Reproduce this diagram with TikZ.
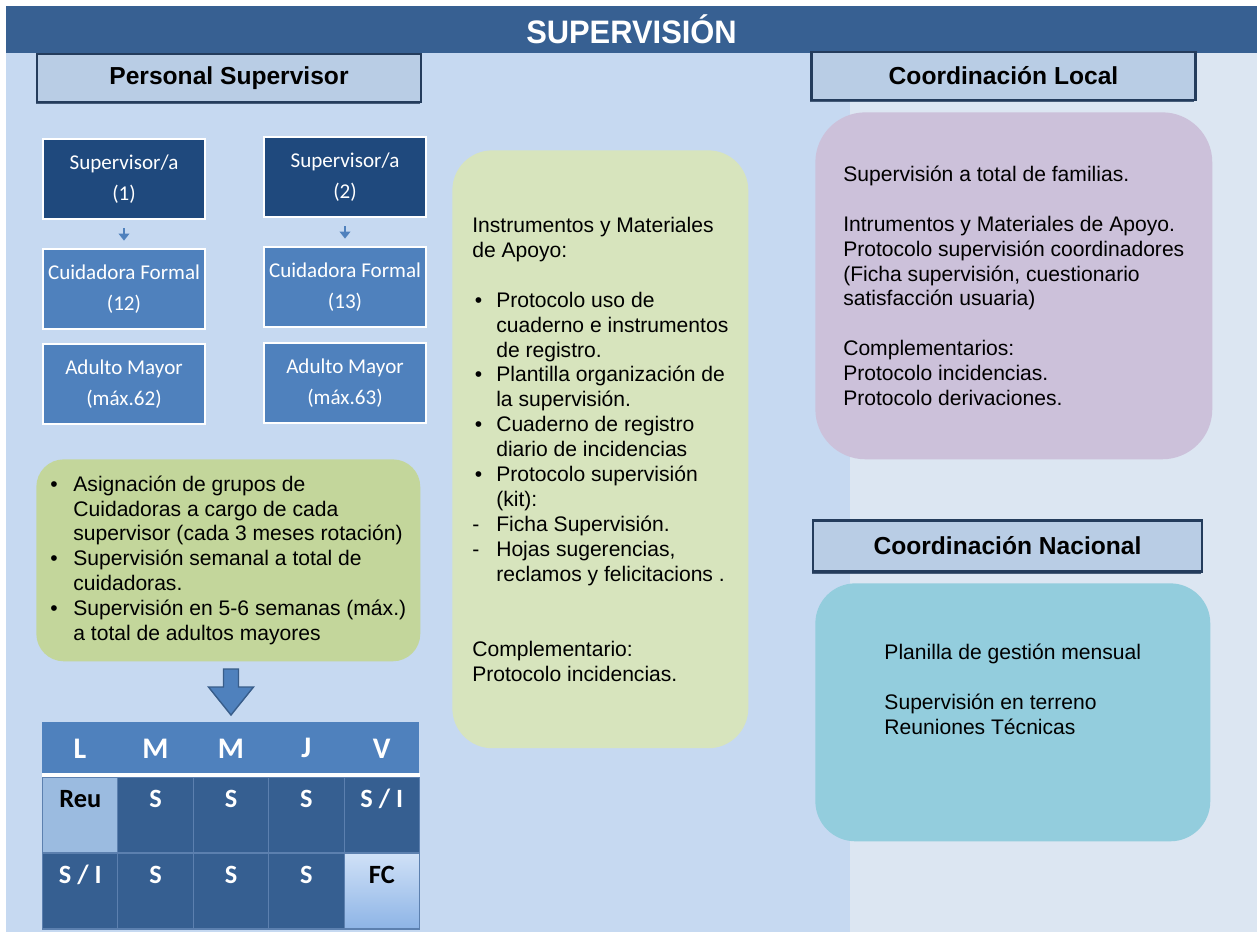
\documentclass[tikz,border=0pt]{standalone}
\usepackage{fontspec}
\setmainfont{Liberation Sans}
\newfontfamily\calibri{Carlito}
\usepackage{tikz}
\usetikzlibrary{shapes,arrows,arrows.meta,shadows}
\usetikzlibrary{positioning}
\definecolor{titleblue}{RGB}{55,96,146}
\definecolor{panelblue}{RGB}{198,217,241}
\definecolor{panelpale}{RGB}{220,230,242}
\definecolor{headfill}{RGB}{185,205,229}
\definecolor{headline}{RGB}{36,60,92}
\definecolor{navy}{RGB}{31,73,125}
\definecolor{midblue}{RGB}{79,129,189}
\definecolor{darkcell}{RGB}{54,95,145}
\definecolor{gridline}{RGB}{92,128,175}
\definecolor{lightcell}{RGB}{155,187,224}
\definecolor{fctop}{RGB}{208,225,247}
\definecolor{fcbottom}{RGB}{141,180,230}
\definecolor{leafgreen}{RGB}{195,214,155}
\definecolor{palegreen}{RGB}{215,228,189}
\definecolor{lilac}{RGB}{204,193,218}
\definecolor{aqua}{RGB}{147,205,221}
\definecolor{arrowline}{RGB}{56,93,138}
\tikzstyle{titlebar} = [fill=titleblue, text=white, minimum width=25.02cm,
    minimum height=0.94cm, font=\bfseries\fontsize{18.5}{20}\selectfont]
\tikzstyle{headbox} = [draw=headline, line width=1.4pt, fill=headfill,
    minimum width=7.68cm, minimum height=0.96cm, font=\bfseries\fontsize{14}{16}\selectfont,
    drop shadow={shadow xshift=-0.6pt, shadow yshift=-1.4pt, fill=headline, opacity=0.8}]
\tikzstyle{superbox} = [draw=white, line width=1.5pt, fill=navy, text=white,
    minimum width=3.24cm, minimum height=1.6cm, align=center, inner sep=0pt,
    font=\calibri\fontsize{12}{18}\selectfont]
\tikzstyle{carebox} = [superbox, fill=midblue]
\tikzstyle{infobox} = [anchor=north west, align=left, inner sep=0pt,
    font=\fontsize{12}{14.2}\selectfont]
\tikzstyle{smallarrow} = [midblue, line width=1.2pt, -{Triangle[length=4pt,width=6pt]},
    shorten <=4.5pt, shorten >=4pt]
\tikzstyle{bigarrow} = [draw=arrowline, fill=midblue, line width=0.8pt, line join=miter]
\tikzstyle{dayhead} = [anchor=north west, fill=midblue, text=white, inner sep=0pt,
    minimum width=1.508cm, minimum height=1.04cm, font=\calibri\bfseries\fontsize{17}{19}\selectfont]
\tikzstyle{cellbox} = [anchor=north west, fill=darkcell, draw=gridline, line width=0.6pt,
    text=white, inner sep=0pt, minimum width=1.508cm, text height=0.6cm, text depth=0.92cm,
    font=\calibri\bfseries\fontsize{15}{17}\selectfont]
\newcommand{\bulmark}[1]{\makebox[#1][l]{\textbullet}}
\newcommand{\dashmark}[1]{\makebox[#1][l]{-}}
\newcommand{\hangin}[1]{\hspace*{#1}}

\begin{document}
\begin{tikzpicture}[x=0.02cm, y=-0.02cm]
    \useasboundingbox (0,0) rectangle (1257,932);
    \fill [white] (0,0) rectangle (1257,932);
    \fill [panelblue] (6,52) rectangle (850,932);
    \fill [panelpale] (850,52) rectangle (1257,932);

    \node [titlebar] (title) at (631.5,29.5) {\scalebox{0.95}[1]{SUPERVISIÓN}};

    \node [headbox] (personal) at (229,78) {Personal Supervisor};
    \node [headbox] (local) at (1003.5,76) {Coordinación Local};
    \node [headbox, minimum width=7.78cm, minimum height=1.02cm] (nacional) at (1007.5,546) {Coordinación Nacional};

    \node [superbox] (sup1) at (124,179) {Supervisor/a\\(1)};
    \node [superbox] (sup2) at (345,177) {Supervisor/a\\(2)};
    \node [carebox] (care1) at (124,289) {Cuidadora Formal\\(12)};
    \node [carebox] (care2) at (345,287) {Cuidadora Formal\\(13)};
    \node [carebox] (elder1) at (124,384) {Adulto Mayor\\(máx.62)};
    \node [carebox] (elder2) at (345,383) {Adulto Mayor\\(máx.63)};

    \draw [smallarrow] (sup1) -- (care1);
    \draw [smallarrow] (sup2) -- (care2);

    \node [infobox, fill=leafgreen, rounded corners=0.55cm, minimum width=7.68cm,
        minimum height=4.04cm] (tasks) at (36,459) {%
        \bulmark{0.46cm}Asignación de grupos de\\
        \hangin{0.46cm}Cuidadoras a cargo de cada\\
        \hangin{0.46cm}supervisor (cada 3 meses rotación)\\
        \bulmark{0.46cm}Supervisión semanal a total de\\
        \hangin{0.46cm}cuidadoras.\\
        \bulmark{0.46cm}Supervisión en 5-6 semanas (máx.)\\
        \hangin{0.46cm}a total de adultos mayores};

    \draw [bigarrow] (223.5,669) -- (238.5,669) -- (238.5,687) -- (253.5,687) -- (231,715)
        -- (208.5,687) -- (223.5,687) -- cycle;

    \foreach \d [count=\i] in {L,M,M,J,V}
        \node [dayhead] (day\i) at ({42+75.4*(\i-1)},722) {\d};
    \draw [white, line width=2.2pt] (day1.south west) -- (day5.south east);

    \node [cellbox, fill=lightcell, text=black] (reu) at (42,776.5) {Reu};
    \node [cellbox] (s12) at (117.4,776.5) {S};
    \node [cellbox] (s13) at (192.8,776.5) {S};
    \node [cellbox] (s14) at (268.2,776.5) {S};
    \node [cellbox] (s15) at (343.6,776.5) {S / I};
    \node [cellbox] (s21) at (42,852.5) {S / I};
    \node [cellbox] (s22) at (117.4,852.5) {S};
    \node [cellbox] (s23) at (192.8,852.5) {S};
    \node [cellbox] (s24) at (268.2,852.5) {S};
    \node [cellbox, top color=fctop, bottom color=fcbottom, text=black] (fc) at (343.6,852.5) {FC};

    \node [infobox, fill=palegreen, rounded corners=0.8cm, minimum width=5.92cm,
        minimum height=11.96cm] (tools) at (452,150) {%
        Instrumentos y Materiales\\
        de Apoyo:\\[0.5cm]
        \hspace*{0.05cm}\bulmark{0.43cm}Protocolo uso de\\
        \hangin{0.48cm}cuaderno e instrumentos\\
        \hangin{0.48cm}de registro.\\
        \hspace*{0.05cm}\bulmark{0.43cm}Plantilla organización de\\
        \hangin{0.48cm}la supervisión.\\
        \hspace*{0.05cm}\bulmark{0.43cm}Cuaderno de registro\\
        \hangin{0.48cm}diario de incidencias\\
        \hspace*{0.05cm}\bulmark{0.43cm}Protocolo supervisión\\
        \hangin{0.48cm}(kit):\\
        \dashmark{0.48cm}Ficha Supervisión.\\
        \dashmark{0.48cm}Hojas sugerencias,\\
        \hangin{0.48cm}reclamos y felicitacions .\\[1cm]
        Complementario:\\
        Protocolo incidencias.};

    \node [infobox, fill=lilac, rounded corners=1cm, minimum width=7.94cm,
        minimum height=6.94cm] (localtext) at (815,112) {%
        Supervisión a total de familias.\\[0.5cm]
        Intrumentos y Materiales de Apoyo.\\
        Protocolo supervisión coordinadores\\
        (Ficha supervisión, cuestionario\\
        satisfacción usuaria)\\[0.5cm]
        Complementarios:\\
        Protocolo incidencias.\\
        Protocolo derivaciones.};

    \node [infobox, fill=aqua, rounded corners=0.8cm, minimum width=7.9cm,
        minimum height=5.16cm] (nacionaltext) at (815,583) {%
        Planilla de gestión mensual\\[0.5cm]
        Supervisión en terreno\\
        Reuniones Técnicas\\[0.42cm]
        \mbox{}};
\end{tikzpicture}
\end{document}
